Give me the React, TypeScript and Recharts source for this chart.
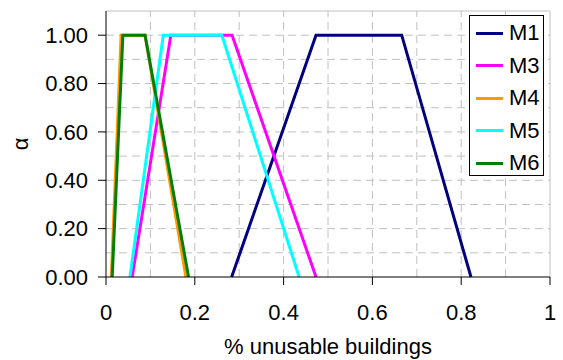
import { LineChart, Line, XAxis, YAxis, ReferenceLine } from 'recharts'

// Trapezoidal membership functions — x = fraction of unusable buildings, alpha = membership
const M1_X = [0.283, 0.473, 0.666, 0.822]
const M1_A = [0, 1, 1, 0]
const M3_X = [0.059, 0.146, 0.284, 0.473]
const M3_A = [0, 1, 1, 0]
const M4_X = [0.012, 0.034, 0.088, 0.18]
const M4_A = [0, 1, 1, 0]
const M5_X = [0.054, 0.129, 0.261, 0.435]
const M5_A = [0, 1, 1, 0]
const M6_X = [0.014, 0.038, 0.088, 0.186]
const M6_A = [0, 1, 1, 0]

const X_TICKS = [0, 0.2, 0.4, 0.6, 0.8, 1]
const Y_TICKS = [0, 0.2, 0.4, 0.6, 0.8, 1.0]
const GRID_X = [0.1, 0.2, 0.3, 0.4, 0.5, 0.6, 0.7, 0.8, 0.9]
const GRID_Y = [0.1, 0.2, 0.3, 0.4, 0.5, 0.6, 0.7, 0.8, 0.9, 1.0]

const SERIES = [
  { name: 'M1', xs: M1_X, as: M1_A, color: '#000080' },
  { name: 'M3', xs: M3_X, as: M3_A, color: '#ff00ff' },
  { name: 'M4', xs: M4_X, as: M4_A, color: '#ff9900' },
  { name: 'M5', xs: M5_X, as: M5_A, color: '#00ffff' },
  { name: 'M6', xs: M6_X, as: M6_A, color: '#008000' },
]

const FONT = '"Liberation Sans", Arial, sans-serif'
const FS = 22
const TICK = { fontSize: FS, fill: '#000', fontFamily: FONT }
const GRID = '#c0c0c0'

function toPoints(xs: number[], as: number[]) {
  return xs.map((x, i) => ({ x, a: as[i] }))
}

// legend drawn as an overlay so it doesn't shrink the plot area
function LegendBox() {
  return (
    <div style={{
      position: 'absolute', left: 469, top: 15, width: 73, height: 159,
      border: '1px solid #000', background: '#fff',
      fontFamily: FONT, fontSize: FS, color: '#000',
    }}>
      {SERIES.map((s, i) => (
        <div key={s.name} style={{
          position: 'absolute', left: 6, top: 3 + i * 32.5, height: 28,
          display: 'flex', alignItems: 'center',
        }}>
          <span style={{ display: 'inline-block', width: 27, height: 3, background: s.color }} />
          <span style={{ marginLeft: 6, lineHeight: '28px' }}>{s.name}</span>
        </div>
      ))}
    </div>
  )
}

function AlphaLabel({ viewBox }: any) {
  const x = viewBox.x + 20
  const y = viewBox.y + viewBox.height / 2
  return (
    <text x={x} y={y} transform={`rotate(-90 ${x} ${y})`} textAnchor="middle"
      dominantBaseline="central" fontSize={FS} fontFamily={FONT} fill="#000">α</text>
  )
}

export default function App() {
  return (
    <div style={{ position: 'absolute', left: 0, top: 0, width: 563, height: 360, background: '#fff' }}>
      <LineChart width={563} height={360} margin={{ top: 11, right: 13, left: 0, bottom: 0 }}>
        {GRID_X.map(v => (
          <ReferenceLine key={`gx${v}`} x={v} stroke={GRID} strokeDasharray="8 5" />
        ))}
        {GRID_Y.map(v => (
          <ReferenceLine key={`gy${v}`} y={v} stroke={GRID} strokeDasharray="8 5" />
        ))}
        <ReferenceLine y={1.1} stroke={GRID} />
        <ReferenceLine x={1} stroke={GRID} />
        <XAxis type="number" dataKey="x" domain={[0, 1]} ticks={X_TICKS} height={83}
          tick={TICK} tickSize={8} tickMargin={19} stroke="#000" allowDuplicatedCategory={false}
          label={{ value: '% unusable buildings', position: 'insideBottom', offset: 6,
            style: { fontSize: FS, fill: '#000', fontFamily: FONT } }} />
        <YAxis type="number" dataKey="a" domain={[0, 1.1]} ticks={Y_TICKS} width={106}
          tick={TICK} tickSize={8} tickMargin={10} stroke="#000"
          tickFormatter={(v: number) => v.toFixed(2)}
          label={<AlphaLabel />} />
        {SERIES.map(s => (
          <Line key={s.name} data={toPoints(s.xs, s.as)} dataKey="a" name={s.name}
            type="linear" stroke={s.color} strokeWidth={3} dot={false}
            isAnimationActive={false} />
        ))}
      </LineChart>
      <LegendBox />
    </div>
  )
}
